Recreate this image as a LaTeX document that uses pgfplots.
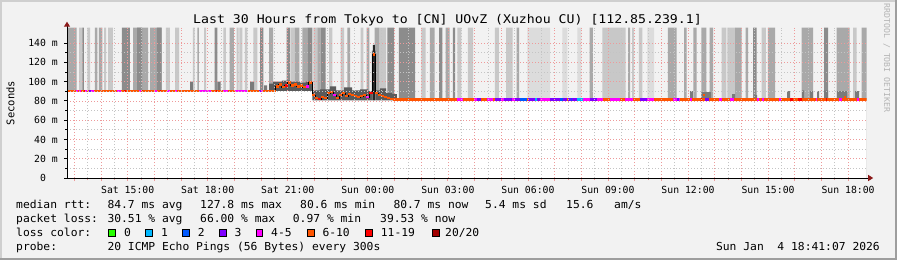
\documentclass[border=0pt]{standalone}
\usepackage{pgfplots}
\pgfplotsset{compat=1.18}
\usetikzlibrary{arrows.meta}
\usepackage{fontspec}
\setmonofont{DejaVu Sans Mono}
\definecolor{bgc}{HTML}{F2F2F2}
\definecolor{bordl}{HTML}{CFCFCF}
\definecolor{bordd}{HTML}{9E9E9E}
\definecolor{mgridc}{HTML}{EE9A9A}
\definecolor{gridc}{HTML}{C4C4C4}
\definecolor{arrowc}{HTML}{8B1A1A}
\definecolor{smokeVL}{HTML}{DCDCDC}
\definecolor{smokeL}{HTML}{C8C8C8}
\definecolor{smokeM}{HTML}{A9A9A9}
\definecolor{smokeD}{HTML}{8C8C8C}
\definecolor{smokeS}{HTML}{7A7A7A}
\definecolor{smokeN}{HTML}{5A5A5A}
\definecolor{lossG}{HTML}{26FF00}
\definecolor{lossC}{HTML}{00B8FF}
\definecolor{lossB}{HTML}{0059FF}
\definecolor{lossP}{HTML}{7E00FF}
\definecolor{lossM}{HTML}{FF00FF}
\definecolor{lossO}{HTML}{FF5500}
\definecolor{lossR}{HTML}{FF0000}
\definecolor{lossDR}{HTML}{A10000}
\definecolor{rrdc}{HTML}{B4B4B4}
\begin{document}
\begin{tikzpicture}[x=1bp,y=1bp]
\path[use as bounding box] (0,0) rectangle (897,260);
\fill[bgc] (0,0) rectangle (897,260);
\fill[bordl] (0,0) rectangle (2,260);
\fill[bordl] (0,258) rectangle (897,260);
\fill[bordd] (895,0) rectangle (897,260);
\fill[bordd] (0,0) rectangle (897,2);
\begin{axis}[
  at={(67bp,82bp)}, anchor=south west,
  scale only axis, width=799.7bp, height=150.3bp,
  xmin=12.725, xmax=42.698, ymin=0, ymax=155.9,
  axis x line=bottom, axis y line=left,
  axis line style={line width=1bp, black},
  x axis line style={-{Triangle[length=5bp,width=6bp,color=arrowc]}, shorten >=-6.5bp},
  y axis line style={-{Triangle[length=5bp,width=6bp,color=arrowc]}, shorten >=-6bp},
  xtick={13,...,42}, minor x tick num=1,
  xticklabels={,,Sat 15:00,,,Sat 18:00,,,Sat 21:00,,,Sun 00:00,,,Sun 03:00,,,Sun 06:00,,,Sun 09:00,,,Sun 12:00,,,Sun 15:00,,,Sun 18:00},
  ytick={0,20,...,140}, minor y tick num=1,
  yticklabels={0\kern11.8bp,20 m,40 m,60 m,80 m,100 m,120 m,140 m},
  grid=both,
  major grid style={draw=mgridc, line width=0.7bp, dash pattern=on 1bp off 2bp},
  minor grid style={draw=gridc, line width=0.7bp, dash pattern=on 1bp off 2bp},
  tick align=outside, major tick length=3bp, minor tick length=2bp,
  xtick style={draw=mgridc, line width=0.8bp},
  ytick style={draw=black, line width=0.8bp},
  ticklabel style={font=\ttfamily\fontsize{9.8bp}{11bp}\selectfont},
  yticklabel style={anchor=east, inner sep=0pt, xshift=-6bp},
  xticklabel style={anchor=north, inner sep=0pt, yshift=-5bp},
  axis on top,
  unbounded coords=jump,
]
% smoke: very light
\addplot[const plot, fill=smokeVL, draw=none] coordinates {(29.977,156)(30.828,0)(31.289,156)(31.476,0)(31.851,156)(32.001,0)(34.475,156)(34.726,0)} \closedcycle;
% smoke: light
\addplot[const plot, fill=smokeL, draw=none] coordinates {(13.175,156)(13.298,0)(13.486,156)(13.587,0)(14.112,156)(14.187,0)(14.262,156)(14.449,0)(16.435,156)(16.585,0)(16.773,156)(16.923,0)(17.447,156)(17.511,0)(17.860,156)(17.935,0)(18.583,156)(18.684,0)(19.085,156)(19.160,0)(19.183,156)(19.295,0)(19.396,156)(19.483,0)(19.707,156)(19.857,0)(21.109,156)(21.259,0)(21.956,156)(22.106,0)(22.545,156)(22.668,0)(22.983,156)(23.107,0)(23.733,156)(23.830,0)(24.430,156)(24.681,0)(26.004,156)(26.169,0)(27.353,156)(27.503,0)(27.754,156)(27.942,0)(28.766,156)(28.916,0)(29.179,156)(29.430,0)(32.788,156)(33.665,0)(33.901,156)(33.976,0)(34.163,156)(34.287,0)(37.263,156)(37.436,0)(37.473,156)(37.762,0)(38.762,156)(38.923,0)(42.184,156)(42.323,0)} \closedcycle;
% smoke: medium
\addplot[const plot, fill=smokeM, draw=none] coordinates {(12.725,156)(13.089,0)(13.774,156)(13.861,0)(13.924,156)(14.048,0)(15.199,156)(15.761,0)(15.836,156)(16.274,0)(17.609,156)(17.672,0)(18.823,156)(18.984,0)(20.296,156)(20.446,0)(21.259,156)(21.432,0)(21.544,156)(21.731,0)(22.106,156)(22.234,0)(23.231,156)(23.332,0)(23.958,156)(24.055,0)(24.258,156)(24.430,0)(26.330,156)(26.506,0)(26.919,156)(27.069,0)(29.580,156)(29.666,0)(32.316,156)(32.439,0)(33.751,156)(33.826,0)(35.250,156)(35.577,0)(35.850,156)(35.951,0)(36.199,156)(36.326,0)(36.499,156)(36.686,0)(36.813,156)(36.937,0)(37.762,156)(38.013,0)(38.163,156)(38.249,0)(38.998,156)(39.261,0)(40.262,156)(40.685,0)(41.573,156)(42.061,0)(42.510,156)(42.698,0)} \closedcycle;
% smoke: dark
\addplot[const plot, fill=smokeD, draw=none] coordinates {(13.298,156)(13.362,0)(14.786,156)(15.086,0)(15.349,156)(15.536,0)(16.098,156)(16.274,0)(18.261,156)(18.358,0)(19.959,156)(20.082,0)(20.959,156)(21.083,0)(21.731,156)(21.919,0)(22.234,156)(22.421,0)(24.730,156)(24.981,0)(25.168,156)(25.768,0)(26.668,156)(26.791,0)(27.192,156)(27.267,0)(38.436,156)(38.575,0)(41.097,156)(41.247,0)} \closedcycle;
% smoke: short bars
\addplot[const plot, fill=smokeS, draw=none] coordinates {(17.335,100)(17.447,0)(18.358,100)(18.486,0)(19.584,100)(19.734,0)(20.109,96)(20.221,0)(36.075,90)(36.187,0)(36.499,89)(36.862,0)(37.649,87)(37.762,0)(38.474,86)(38.587,0)(39.711,90)(39.823,0)(40.273,91)(40.348,0)(40.573,90)(40.685,0)(40.835,90)(40.910,0)(41.097,91)(41.247,0)(41.585,90)(41.960,0)(42.259,90)(42.409,0)} \closedcycle;
% smoke: dense band in the noisy period
\addplot[const plot, fill=smokeN, draw=none] coordinates {(20.296,98)(20.446,100)(20.547,100)(20.783,101)(21.083,100)(21.457,99)(21.682,100)(21.919,91)(22.208,92)(22.582,95)(22.807,91)(23.107,94)(23.407,91)(23.707,92)(24.007,90)(24.231,91)(24.456,93)(24.681,88)(24.906,87)(25.093,0)} \closedcycle;
% spike
\addplot[const plot, fill=smokeS, draw=none] coordinates {(24.150,132)(24.300,0)} \closedcycle;
\addplot[const plot, fill=black!85, draw=none] coordinates {(24.190,138)(24.262,0)} \closedcycle;
% white below the minimum rtt
\addplot[const plot, fill=white, draw=none] coordinates {(12.725,89.4)(20.547,90.0)(21.919,80.4)(42.698,80.4)} \closedcycle;
% thin connector of the median
\addplot[const plot, draw=black, line width=0.7bp] coordinates {(20.446,90.5)(20.547,95)(20.658,97)(20.771,94)(20.883,96)(20.996,99)(21.108,96)(21.221,97)(21.333,95)(21.446,96)(21.558,94)(21.671,95)(21.783,99)(21.919,86)(22.020,83)(22.132,82)(22.245,84)(22.357,83)(22.470,88)(22.582,89)(22.695,86)(22.807,83)(22.920,86)(23.032,88)(23.145,85)(23.257,87)(23.370,86)(23.482,85)(23.595,84)(23.707,85)(23.820,86)(23.932,84)(24.045,88)(24.175,128)(24.287,88)(24.381,86)(24.494,85)(24.606,84)(24.719,83)(24.831,82)(24.944,81.4)(25.0,81.4)};
% median rtt, coloured by loss: 6-10
\addplot[draw=lossO, line width=2.2bp] coordinates {
(12.725,90.5)(20.547,90.5)(20.547,nan)
(20.547,95)(20.658,95)(20.658,nan)
(20.658,97)(20.771,97)(20.771,nan)
(20.771,94)(20.883,94)(20.883,nan)
(20.883,96)(20.996,96)(20.996,nan)
(20.996,99)(21.108,99)(21.108,nan)
(21.108,96)(21.221,96)(21.221,nan)
(21.221,97)(21.333,97)(21.333,nan)
(21.333,95)(21.446,95)(21.446,nan)
(21.446,96)(21.558,96)(21.558,nan)
(21.558,94)(21.671,94)(21.671,nan)
(21.671,95)(21.783,95)(21.783,nan)
(21.783,99)(21.919,99)(21.919,nan)
(21.919,86)(22.020,86)(22.020,nan)
(22.020,83)(22.132,83)(22.132,nan)
(22.132,82)(22.245,82)(22.245,nan)
(22.245,84)(22.357,84)(22.357,nan)
(22.357,83)(22.470,83)(22.470,nan)
(22.470,88)(22.582,88)(22.582,nan)
(22.582,89)(22.695,89)(22.695,nan)
(22.695,86)(22.807,86)(22.807,nan)
(22.807,83)(22.920,83)(22.920,nan)
(22.920,86)(23.032,86)(23.032,nan)
(23.032,88)(23.145,88)(23.145,nan)
(23.145,85)(23.257,85)(23.257,nan)
(23.257,87)(23.370,87)(23.370,nan)
(23.370,86)(23.482,86)(23.482,nan)
(23.482,85)(23.595,85)(23.595,nan)
(23.595,84)(23.707,84)(23.707,nan)
(23.707,85)(23.820,85)(23.820,nan)
(23.820,86)(23.932,86)(23.932,nan)
(23.932,84)(24.045,84)(24.045,nan)
(24.045,88)(24.175,88)(24.175,nan)
(24.175,128)(24.287,128)(24.287,nan)
(24.287,88)(24.381,88)(24.381,nan)
(24.381,86)(24.494,86)(24.494,nan)
(24.494,85)(24.606,85)(24.606,nan)
(24.606,84)(24.719,84)(24.719,nan)
(24.719,83)(24.831,83)(24.831,nan)
(24.831,82)(24.944,82)(24.944,nan)
(24.944,81.4)(42.698,81.4)(42.698,nan)
(36.55,86)(36.63,86)(36.63,nan)
(41.84,84.3)(41.92,84.3)};
% 4-5
\addplot[draw=lossM, line width=2.2bp] coordinates {
(13.044,90.5)(13.119,90.5)(13.119,nan)
(13.175,90.5)(13.261,90.5)(13.261,nan)
(13.373,90.5)(13.486,90.5)(13.486,nan)
(13.624,90.5)(13.737,90.5)(13.737,nan)
(14.610,90.5)(14.760,90.5)(14.760,nan)
(15.424,90.5)(15.510,90.5)(15.510,nan)
(16.012,90.5)(16.087,90.5)(16.087,nan)
(16.484,90.5)(16.585,90.5)(16.585,nan)
(16.773,90.5)(16.859,90.5)(16.859,nan)
(17.672,90.5)(18.122,90.5)(18.122,nan)
(18.583,90.5)(18.759,90.5)(18.759,nan)
(19.022,90.5)(19.509,90.5)(19.509,nan)
(19.996,90.5)(20.082,90.5)(20.082,nan)
(21.671,95)(21.783,95)(21.783,nan)
(22.695,86)(22.807,86)(22.807,nan)
(23.932,84)(24.045,84)(24.045,nan)
(27.331,81.4)(27.578,81.4)(27.578,nan)
(27.980,81.4)(28.100,81.4)(28.100,nan)
(28.455,81.4)(28.703,81.4)(28.703,nan)
(29.000,81.4)(29.100,81.4)(29.100,nan)
(29.400,81.4)(29.500,81.4)(29.500,nan)
(30.453,81.4)(30.828,81.4)(30.828,nan)
(32.065,81.4)(32.327,81.4)(32.327,nan)
(32.589,81.4)(32.814,81.4)(32.814,nan)
(33.076,81.4)(33.451,81.4)(33.451,nan)
(33.639,81.4)(33.939,81.4)(33.939,nan)
(34.463,81.4)(34.726,81.4)(34.726,nan)
(35.438,81.4)(35.700,81.4)(35.700,nan)
(36.075,81.4)(36.150,81.4)(36.150,nan)
(37.162,81.4)(37.286,81.4)(37.286,nan)
(37.574,81.4)(37.724,81.4)(37.724,nan)
(38.597,81.4)(38.661,81.4)(38.661,nan)
(38.785,81.4)(38.849,81.4)(38.849,nan)
(39.411,81.4)(39.497,81.4)(39.497,nan)
(40.786,81.4)(40.846,81.4)(40.846,nan)
(41.659,81.4)(41.783,81.4)(41.783,nan)
(42.345,81.4)(42.409,81.4)};
% 3
\addplot[draw=lossP, line width=2.2bp] coordinates {
(13.550,90.5)(13.624,90.5)(13.624,nan)
(19.932,90.5)(19.996,90.5)(19.996,nan)
(28.100,81.4)(28.240,81.4)(28.240,nan)
(28.766,81.4)(29.000,81.4)(29.000,nan)
(29.100,81.4)(29.400,81.4)(29.400,nan)
(29.500,81.4)(29.703,81.4)(29.703,nan)
(30.003,81.4)(30.266,81.4)(30.266,nan)
(30.341,81.4)(30.453,81.4)(30.453,nan)
(30.828,81.4)(31.202,81.4)(31.202,nan)
(31.315,81.4)(31.450,81.4)(31.450,nan)
(31.520,81.4)(31.840,81.4)(31.840,nan)
(32.327,81.4)(32.589,81.4)(32.589,nan)
(34.201,81.4)(34.463,81.4)(34.463,nan)
(35.588,81.4)(35.663,81.4)(35.663,nan)
(36.637,81.4)(36.787,81.4)};
% 2
\addplot[draw=lossB, line width=2.2bp] coordinates {
(29.703,81.4)(29.955,81.4)(29.955,nan)
(31.202,81.4)(31.315,81.4)(31.315,nan)
(31.600,81.4)(31.650,81.4)};
% 1
\addplot[draw=lossC, line width=2.2bp] coordinates {
(30.266,81.4)(30.341,81.4)(30.341,nan)
(31.840,81.4)(32.065,81.4)};
% 11-19
\addplot[draw=lossR, line width=2.2bp] coordinates {
(13.362,90.5)(13.400,90.5)(13.400,nan)
(14.861,90.5)(14.918,90.5)(14.918,nan)
(15.536,90.5)(15.592,90.5)(15.592,nan)
(16.199,90.5)(16.248,90.5)(16.248,nan)
(18.298,90.5)(18.347,90.5)(18.347,nan)
(20.883,96)(20.996,96)(20.996,nan)
(22.132,82)(22.245,82)(22.245,nan)
(24.045,88)(24.175,88)(24.175,nan)
(36.476,81.4)(36.543,81.4)(36.543,nan)
(39.823,81.4)(39.936,81.4)(39.936,nan)
(40.123,81.4)(40.284,81.4)(40.284,nan)
(41.161,81.4)(41.221,81.4)};
\end{axis}
% title and labels
\node[anchor=base, inner sep=0, font=\ttfamily\fontsize{12bp}{14bp}\selectfont, xscale=1.1] at (447.5,236.7) {Last 30 Hours from Tokyo to [CN] UOvZ (Xuzhou CU) [112.85.239.1]};
\node[rotate=90, inner sep=0, font=\ttfamily\fontsize{10.5bp}{12bp}\selectfont] at (10.5,157) {Seconds};
\node[rotate=-90, inner sep=0, text=rrdc, font=\ttfamily\fontsize{8.2bp}{10bp}\selectfont] at (886.7,202) {RRDTOOL / TOBI OETIKER};
% legend
\tikzset{lg/.style={anchor=base west, inner sep=0, font=\ttfamily\fontsize{11bp}{13bp}\selectfont, xscale=1.03}}
\node[lg] at (16,51.7) {median rtt:};
\node[lg] at (107.3,51.7) {84.7 ms avg};
\node[lg] at (200,51.7) {127.8 ms max};
\node[lg] at (300,51.7) {80.6 ms min};
\node[lg] at (393.3,51.7) {80.7 ms now};
\node[lg] at (485,51.7) {5.4 ms sd};
\node[lg] at (566,51.7) {15.6};
\node[lg] at (614,51.7) {am/s};
\node[lg] at (16,37.8) {packet loss:};
\node[lg] at (107.3,37.8) {30.51 \% avg};
\node[lg] at (200,37.8) {66.00 \% max};
\node[lg] at (292.7,37.8) {0.97 \% min};
\node[lg] at (380,37.8) {39.53 \% now};
\node[lg] at (16,23.9) {loss color:};
\filldraw[fill=lossG, draw=black, line width=0.8bp] (108.3,23.6) rectangle (115,30.6);
\node[lg] at (124,23.9) {0};
\filldraw[fill=lossC, draw=black, line width=0.8bp] (145.7,23.6) rectangle (152.4,30.6);
\node[lg] at (161,23.9) {1};
\filldraw[fill=lossB, draw=black, line width=0.8bp] (182.7,23.6) rectangle (189.4,30.6);
\node[lg] at (197.7,23.9) {2};
\filldraw[fill=lossP, draw=black, line width=0.8bp] (219.3,23.6) rectangle (226,30.6);
\node[lg] at (234.3,23.9) {3};
\filldraw[fill=lossM, draw=black, line width=0.8bp] (256,23.6) rectangle (262.7,30.6);
\node[lg] at (271,23.9) {4-5};
\filldraw[fill=lossO, draw=black, line width=0.8bp] (307.3,23.6) rectangle (314,30.6);
\node[lg] at (322.3,23.9) {6-10};
\filldraw[fill=lossR, draw=black, line width=0.8bp] (365.7,23.6) rectangle (372.4,30.6);
\node[lg] at (380.7,23.9) {11-19};
\filldraw[fill=lossDR, draw=black, line width=0.8bp] (432.3,23.6) rectangle (439,30.6);
\node[lg] at (445,23.9) {20/20};
\node[lg] at (16,10) {probe:};
\node[lg] at (107.3,10) {20 ICMP Echo Pings (56 Bytes) every 300s};
\node[lg, anchor=base east] at (880,10) {Sun Jan\ \ 4 18:41:07 2026};
\end{tikzpicture}
\end{document}
